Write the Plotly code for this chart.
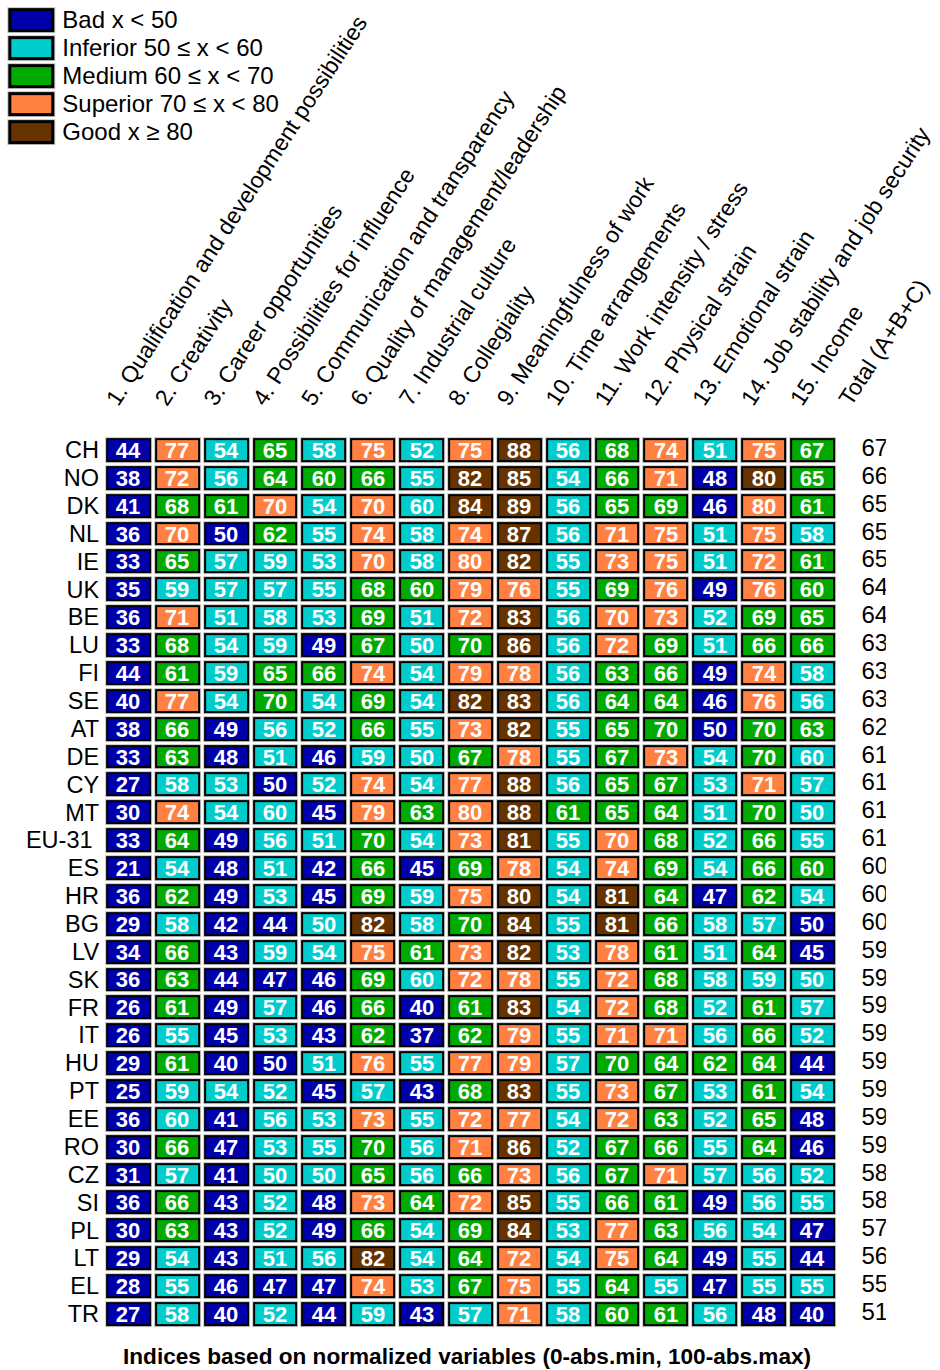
import plotly.graph_objects as go

# ---------------- data ----------------
countries = ["CH", "NO", "DK", "NL", "IE", "UK", "BE", "LU", "FI", "SE", "AT", "DE", "CY", "MT",
             "EU-31\u00a0", "ES", "HR", "BG", "LV", "SK", "FR", "IT", "HU", "PT", "EE", "RO", "CZ",
             "SI", "PL", "LT", "EL", "TR"]

indicators = [
    "1. Qualification and development possibilities",
    "2. Creativity",
    "3. Career opportunities",
    "4. Possibilities for influence",
    "5. Communication and transparency",
    "6. Quality of management/leadership",
    "7. Industrial culture",
    "8. Collegiality",
    "9. Meaningfulness of work",
    "10. Time arrangements",
    "11. Work intensity / stress",
    "12. Physical strain",
    "13. Emotional strain",
    "14. Job stability and job security",
    "15. Income",
]
total_label = "Total (A+B+C)"

scores = [
    [44, 77, 54, 65, 58, 75, 52, 75, 88, 56, 68, 74, 51, 75, 67],  # CH
    [38, 72, 56, 64, 60, 66, 55, 82, 85, 54, 66, 71, 48, 80, 65],  # NO
    [41, 68, 61, 70, 54, 70, 60, 84, 89, 56, 65, 69, 46, 80, 61],  # DK
    [36, 70, 50, 62, 55, 74, 58, 74, 87, 56, 71, 75, 51, 75, 58],  # NL
    [33, 65, 57, 59, 53, 70, 58, 80, 82, 55, 73, 75, 51, 72, 61],  # IE
    [35, 59, 57, 57, 55, 68, 60, 79, 76, 55, 69, 76, 49, 76, 60],  # UK
    [36, 71, 51, 58, 53, 69, 51, 72, 83, 56, 70, 73, 52, 69, 65],  # BE
    [33, 68, 54, 59, 49, 67, 50, 70, 86, 56, 72, 69, 51, 66, 66],  # LU
    [44, 61, 59, 65, 66, 74, 54, 79, 78, 56, 63, 66, 49, 74, 58],  # FI
    [40, 77, 54, 70, 54, 69, 54, 82, 83, 56, 64, 64, 46, 76, 56],  # SE
    [38, 66, 49, 56, 52, 66, 55, 73, 82, 55, 65, 70, 50, 70, 63],  # AT
    [33, 63, 48, 51, 46, 59, 50, 67, 78, 55, 67, 73, 54, 70, 60],  # DE
    [27, 58, 53, 50, 52, 74, 54, 77, 88, 56, 65, 67, 53, 71, 57],  # CY
    [30, 74, 54, 60, 45, 79, 63, 80, 88, 61, 65, 64, 51, 70, 50],  # MT
    [33, 64, 49, 56, 51, 70, 54, 73, 81, 55, 70, 68, 52, 66, 55],  # EU-31
    [21, 54, 48, 51, 42, 66, 45, 69, 78, 54, 74, 69, 54, 66, 60],  # ES
    [36, 62, 49, 53, 45, 69, 59, 75, 80, 54, 81, 64, 47, 62, 54],  # HR
    [29, 58, 42, 44, 50, 82, 58, 70, 84, 55, 81, 66, 58, 57, 50],  # BG
    [34, 66, 43, 59, 54, 75, 61, 73, 82, 53, 78, 61, 51, 64, 45],  # LV
    [36, 63, 44, 47, 46, 69, 60, 72, 78, 55, 72, 68, 58, 59, 50],  # SK
    [26, 61, 49, 57, 46, 66, 40, 61, 83, 54, 72, 68, 52, 61, 57],  # FR
    [26, 55, 45, 53, 43, 62, 37, 62, 79, 55, 71, 71, 56, 66, 52],  # IT
    [29, 61, 40, 50, 51, 76, 55, 77, 79, 57, 70, 64, 62, 64, 44],  # HU
    [25, 59, 54, 52, 45, 57, 43, 68, 83, 55, 73, 67, 53, 61, 54],  # PT
    [36, 60, 41, 56, 53, 73, 55, 72, 77, 54, 72, 63, 52, 65, 48],  # EE
    [30, 66, 47, 53, 55, 70, 56, 71, 86, 52, 67, 66, 55, 64, 46],  # RO
    [31, 57, 41, 50, 50, 65, 56, 66, 73, 56, 67, 71, 57, 56, 52],  # CZ
    [36, 66, 43, 52, 48, 73, 64, 72, 85, 55, 66, 61, 49, 56, 55],  # SI
    [30, 63, 43, 52, 49, 66, 54, 69, 84, 53, 77, 63, 56, 54, 47],  # PL
    [29, 54, 43, 51, 56, 82, 54, 64, 72, 54, 75, 64, 49, 55, 44],  # LT
    [28, 55, 46, 47, 47, 74, 53, 67, 75, 55, 64, 55, 47, 55, 55],  # EL
    [27, 58, 40, 52, 44, 59, 43, 57, 71, 58, 60, 61, 56, 48, 40],  # TR
]

# class of every cell as shown by its colour (B=Bad, I=Inferior, M=Medium, S=Superior, G=Good)
classes = [
    "BSIMISISGIMSISM",  # CH
    "BSIMMMIGGIMSBGM",  # NO
    "BMMSISIGGIMMBSM",  # DK
    "BSBMISISGISSISI",  # NL
    "BMIIISISGISSISM",  # IE
    "BIIIIMMSSIMSBSM",  # UK
    "BSIIIMISGISSIMM",  # BE
    "BMIIBMIMGISMIMM",  # LU
    "BMIMMSISSIMMBSI",  # FI
    "BSIMIMIGGIMMBSI",  # SE
    "BMBIIMISGIMMBMM",  # AT
    "BMBIBIIMSIMSIMI",  # DE
    "BIIBISISGIMMISI",  # CY
    "BSIIBSMSGMMMIMI",  # MT
    "BMBIIMISGISMIMI",  # EU-31
    "BIBIBMBMSISMIMM",  # ES
    "BMBIBMISGIGMBMI",  # HR
    "BIBBIGIMGIGMIIB",  # BG
    "BMBIISMSGISMIMB",  # LV
    "BMBBBMISSISMIII",  # SK
    "BMBIBMBMGISMIMI",  # FR
    "BIBIBMBMSISSIMI",  # IT
    "BMBBISISSIMMMMB",  # HU
    "BIIIBIBMGISMIMI",  # PT
    "BIBIISISSISMIMB",  # EE
    "BMBIIMISGIMMIMB",  # RO
    "BIBIIMIMSIMSIII",  # CZ
    "BMBIBSMSGIMMBII",  # SI
    "BMBIBMIMGISMIIB",  # PL
    "BIBIIGIMSISMBIB",  # LT
    "BIBBBSIMSIMIBII",  # EL
    "BIBIBIBISIMMIBB",  # TR
]

totals = [67, 66, 65, 65, 65, 64, 64, 63, 63, 63, 62, 61, 61, 61, 61, 60, 60, 60, 59, 59, 59,
          59, 59, 59, 59, 59, 58, 58, 57, 56, 55, 51]

class_codes = ["B", "I", "M", "S", "G"]
class_names = ["Bad x < 50", "Inferior 50 \u2264 x < 60", "Medium 60 \u2264 x < 70",
               "Superior 70 \u2264 x < 80", "Good x \u2265 80"]
class_colors = ["#0000AA", "#00CCCC", "#00AA00", "#FF8040", "#663300"]

footer = "Indices based on normalized variables (0-abs.min, 100-abs.max)"

# ---------------- figure ----------------
W, H = 940, 1370
FONT = "Liberation Sans, Arial, sans-serif"

n_rows = len(countries)
n_cols = len(indicators)

class_idx = [[class_codes.index(c) for c in row] for row in classes]
text_vals = [[str(v) for v in row] for row in scores]

# discrete colour scale
cs = []
k = len(class_colors)
for i, c in enumerate(class_colors):
    cs.append([i / k, c])
    cs.append([(i + 1) / k, c])


def flat(color):
    return [[0, color], [1, color]]


zeros = [[0] * n_cols for _ in range(n_rows)]

fig = go.Figure()

# light halo, black frame, coloured fill
fig.add_trace(go.Heatmap(z=zeros, x=indicators, y=countries, colorscale=flat("#c8c8c8"),
                         showscale=False, xgap=2, ygap=2, hoverinfo="skip"))
fig.add_trace(go.Heatmap(z=zeros, x=indicators, y=countries, colorscale=flat("#000000"),
                         showscale=False, xgap=4, ygap=4, hoverinfo="skip"))
fig.add_trace(go.Heatmap(z=class_idx, x=indicators, y=countries, colorscale=cs,
                         zmin=-0.5, zmax=k - 0.5, showscale=False, xgap=8, ygap=8,
                         text=text_vals, texttemplate="%{text}",
                         textfont=dict(family=FONT, size=22, color="white", weight="bold")))

# totals column
fig.add_trace(go.Scatter(x=[total_label] * n_rows, y=countries, mode="text",
                         text=[str(t) for t in totals], textposition="middle right",
                         textfont=dict(family=FONT, size=24, color="black"),
                         showlegend=False, hoverinfo="skip"))

# legend as a small heatmap
leg_x = ["swatch"]
fig.add_trace(go.Heatmap(z=[[0]] * k, x=leg_x, y=class_names, colorscale=flat("#c8c8c8"),
                         showscale=False, xgap=2, ygap=2, xaxis="x2", yaxis="y2",
                         hoverinfo="skip"))
fig.add_trace(go.Heatmap(z=[[0]] * k, x=leg_x, y=class_names, colorscale=flat("#000000"),
                         showscale=False, xgap=4, ygap=4, xaxis="x2", yaxis="y2",
                         hoverinfo="skip"))
fig.add_trace(go.Heatmap(z=[[i] for i in range(k)], x=leg_x, y=class_names, colorscale=cs,
                         zmin=-0.5, zmax=k - 0.5, showscale=False, xgap=10, ygap=10,
                         xaxis="x2", yaxis="y2", hoverinfo="skip"))

# pixel geometry -> domains
col_pitch = 48.86
x_left = 128.5 - col_pitch / 2
x_right = x_left + col_pitch * (n_cols + 1)
row_pitch = 27.87
y_top = 450 - row_pitch / 2
y_bot = y_top + row_pitch * n_rows

x_cats = indicators + [total_label]

fig.update_layout(
    template="none",
    width=W, height=H,
    margin=dict(l=0, r=0, t=0, b=0, pad=0),
    paper_bgcolor="white", plot_bgcolor="white",
    showlegend=False,
    font=dict(family=FONT, size=22, color="black"),
    xaxis=dict(type="category", categoryorder="array", categoryarray=x_cats,
               tickmode="array", tickvals=x_cats, ticktext=x_cats,
               range=[-0.5, n_cols + 0.5], side="top", tickangle=-57,
               domain=[x_left / W, x_right / W], anchor="y", automargin=False,
               showgrid=False, zeroline=False, showline=False, ticks="",
               ticklabelstandoff=18, ticklabelshift=-20,
               tickfont=dict(family=FONT, size=23, color="black"), fixedrange=True),
    yaxis=dict(type="category", categoryorder="array", categoryarray=countries,
               tickmode="array", tickvals=countries, ticktext=countries,
               range=[n_rows - 0.5, -0.5], automargin=False,
               domain=[1 - y_bot / H, 1 - y_top / H], anchor="x",
               showgrid=False, zeroline=False, showline=False, ticks="",
               ticklabelstandoff=4,
               tickfont=dict(family=FONT, size=23.5, color="black"), fixedrange=True),
    xaxis2=dict(type="category", domain=[6.3 / W, 56.3 / W], anchor="y2",
                range=[-0.5, 0.5], visible=False, fixedrange=True, automargin=False),
    yaxis2=dict(type="category", categoryorder="array", categoryarray=class_names,
                tickmode="array", tickvals=class_names, ticktext=class_names,
                range=[k - 0.5, -0.5], domain=[1 - 145.6 / H, 1 - 6.1 / H],
                anchor="x2", side="right", showgrid=False, zeroline=False,
                showline=False, ticks="", ticklabelstandoff=5, automargin=False,
                tickfont=dict(family=FONT, size=24, color="black"), fixedrange=True),
    annotations=[dict(text="<b>" + footer + "</b>", x=467 / W, y=1 - 1356 / H,
                      xref="paper", yref="paper", showarrow=False,
                      xanchor="center", yanchor="middle",
                      font=dict(family=FONT, size=22.6, color="black"))],
)

fig.write_html("out.html", config={"displayModeBar": False},
               post_script="document.body.style.margin='0px';")
